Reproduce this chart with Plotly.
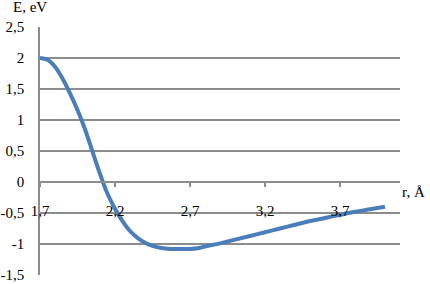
import plotly.graph_objects as go

r_vals = [1.7, 1.75, 1.8, 1.85, 1.9, 1.95, 2.0, 2.05, 2.1, 2.15, 2.2, 2.25, 2.3, 2.35,
          2.4, 2.45, 2.5, 2.55, 2.6, 2.65, 2.7, 2.75, 2.8, 2.9, 3.0, 3.1, 3.2, 3.3,
          3.4, 3.5, 3.6, 3.7, 3.8, 3.9, 4.0]
e_vals = [2.0, 1.97, 1.86, 1.67, 1.43, 1.16, 0.85, 0.49, 0.13, -0.19, -0.43, -0.63,
          -0.79, -0.9, -0.98, -1.03, -1.06, -1.075, -1.08, -1.08, -1.08, -1.07, -1.04,
          -0.99, -0.93, -0.87, -0.81, -0.75, -0.69, -0.63, -0.58, -0.53, -0.48, -0.44, -0.40]

x_ticks = [1.7, 2.2, 2.7, 3.2, 3.7]
x_labels = ["1,7", "2,2", "2,7", "3,2", "3,7"]
y_ticks = [2.5, 2, 1.5, 1, 0.5, 0, -0.5, -1, -1.5]
y_labels = ["2,5", "2", "1,5", "1", "0,5", "0", "-0,5", "-1", "-1,5"]

FONT = "Liberation Serif"
GRID = "#8c8c8c"

fig = go.Figure()
fig.add_trace(go.Scatter(x=r_vals, y=e_vals, mode="lines",
                         line=dict(color="#4a7ebb", width=4, shape="spline", smoothing=1.0),
                         showlegend=False, hoverinfo="skip"))

zero_pos = (0 - (-1.5)) / (2.5 - (-1.5))

fig.update_layout(
    width=430, height=284,
    margin=dict(l=40, r=30, t=27, b=9, autoexpand=False),
    paper_bgcolor="white", plot_bgcolor="white",
    font=dict(family=FONT, size=15, color="black"),
    xaxis=dict(range=[1.7, 4.1], tickvals=x_ticks, ticktext=x_labels, automargin=False,
               showgrid=False, zeroline=False, anchor="free", position=zero_pos,
               showline=True, linecolor=GRID, linewidth=1.5,
               ticks="outside", ticklen=4, tickcolor=GRID, tickwidth=1.5,
               ticklabelstandoff=11, tickfont=dict(family=FONT, size=15)),
    yaxis=dict(range=[-1.5, 2.5], tickvals=y_ticks, ticktext=y_labels, automargin=False,
               showgrid=True, gridcolor=GRID, gridwidth=1.5, zeroline=False,
               showline=True, linecolor=GRID, linewidth=1.5,
               ticks="", ticklabelstandoff=11, tickfont=dict(family=FONT, size=15)),
    annotations=[
        dict(text="E, eV", xref="paper", yref="paper", x=0, y=1.0, xshift=-10, yshift=20,
             xanchor="center", yanchor="middle", showarrow=False,
             font=dict(family=FONT, size=15)),
        dict(text="r, Å", xref="paper", yref="paper", x=1.0, y=zero_pos, xshift=0, yshift=-10,
             xanchor="left", yanchor="middle", showarrow=False,
             font=dict(family=FONT, size=15)),
    ],
)

fig.write_html("out.html", config={"displayModeBar": False},
               post_script="document.body.style.margin='0';")
